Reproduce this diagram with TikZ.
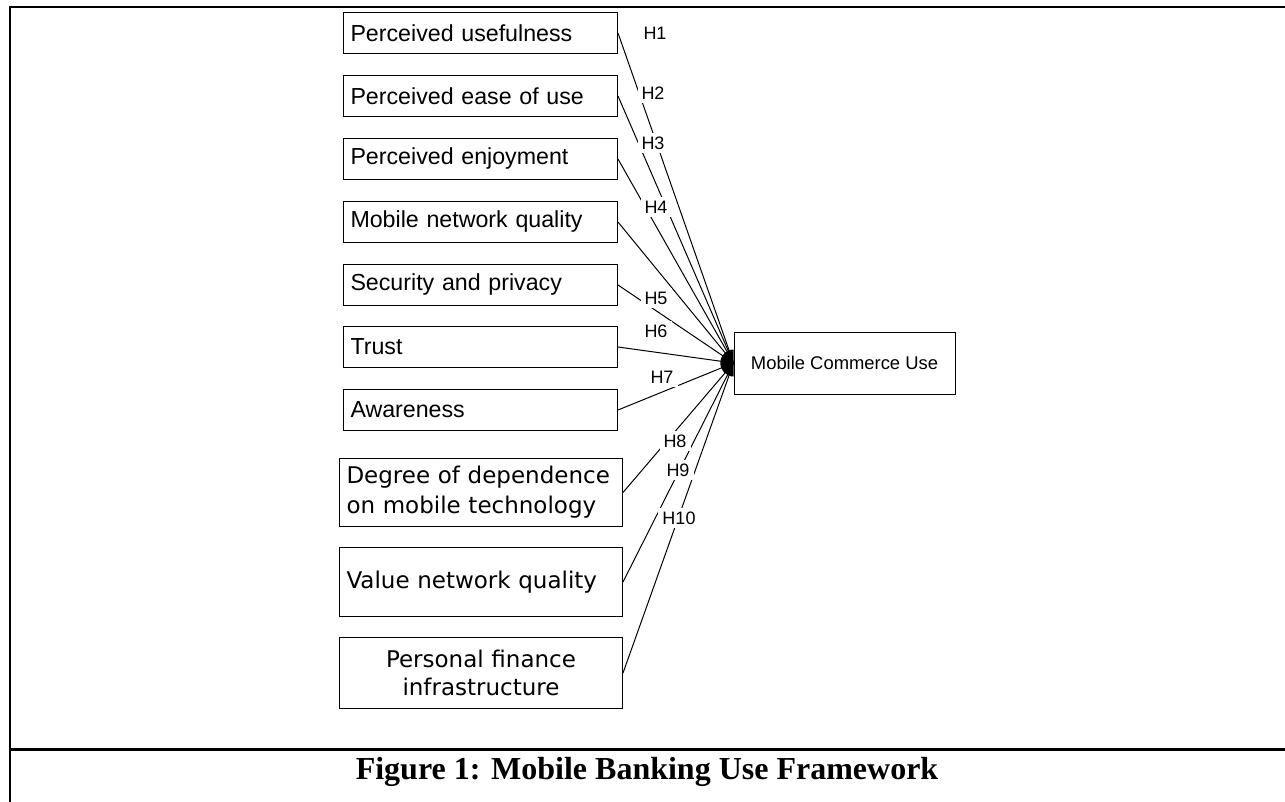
\documentclass[tikz,border=0pt]{standalone}
\usepackage{fontspec}
\setmainfont{Liberation Sans}
\newfontfamily\verdanafont{DejaVu Sans}
\newfontfamily\captionfont{Liberation Serif}
\usetikzlibrary{positioning}

\tikzset{
  factor/.style={draw, line width=0.5pt, anchor=north west, minimum height=20.5pt,
    text width=130pt, inner xsep=3.5pt, align=left, font=\fontsize{11.6}{13}\selectfont},
  factorv/.style={draw, line width=0.5pt, anchor=north west, text width=134.5pt,
    inner xsep=3.5pt, align=left, font=\verdanafont\fontsize{11.5}{15}\selectfont},
  hyp/.style={fill=white, inner sep=2pt, font=\fontsize{9}{10}\selectfont},
  link/.style={line width=0.5pt},
  frame/.style={line width=1.3pt},
}

\begin{document}
\begin{tikzpicture}[x=0.5pt,y=-0.5pt]
	\useasboundingbox (0,0) rectangle (1285,802);
	\draw[frame](1285,7)--(9.8,7)--(9.8,802);
	\draw[frame](9.8,749.5)--(1285,749.5);
	
	\node[factor] (A) at (343,12) {Perceived usefulness};
	\node[factor] (B) at (343,75) {Perceived ease of use};
	\node[factor] (C) at (343,138) {Perceived enjoyment};
	\node[factor] (D) at (343,201) {Mobile network quality};
	\node[factor] (E) at (343,264) {Security and privacy};
	\node[factor] (F) at (343,326) {Trust};
	\node[factor] (G) at (343,389) {Awareness};
	\node[factorv, minimum height=34pt] (H) at (339,458) {Degree of dependence\\on mobile technology};
	\node[factorv, minimum height=34.5pt] (I) at (339,547) {Value network quality};
	\node[factorv, minimum height=35.5pt, align=center, font=\verdanafont\fontsize{11.5}{14}\selectfont] (J) at (339,637) {Personal finance\\infrastructure};
	
	\node[draw, line width=0.5pt, minimum width=110.5pt, minimum height=31pt, font=\fontsize{9.2}{10}\selectfont] (M) at (844.5,363) {Mobile Commerce Use};
	
	\foreach \f in {A,B,C,D,E,F,G,H,I,J}
		\draw[link](\f.east)--(M.west);
	
	\node[hyp] (h1) at (655,33) {H1};
	\node[hyp] (h2) at (653,93) {H2};
	\node[hyp] (h3) at (653,143) {H3};
	\node[hyp] (h4) at (656,207) {H4};
	\node[hyp] (h5) at (656,298) {H5};
	\node[hyp] (h6) at (656,331) {H6};
	\node[hyp] (h7) at (662,377) {H7};
	\node[hyp] (h8) at (675,441) {H8};
	\node[hyp] (h9) at (678,470) {H9};
	\node[hyp] (h10) at (679,518) {H10};
	
	\fill (M.west) ++(0,-13.5) arc (90:270:6.6pt and 6.75pt) -- cycle;
	
	\node[font=\captionfont\bfseries\fontsize{16}{18}\selectfont, anchor=base] (cap) at (647,779) {Figure 1: Mobile Banking Use Framework};
\end{tikzpicture}
\end{document}
